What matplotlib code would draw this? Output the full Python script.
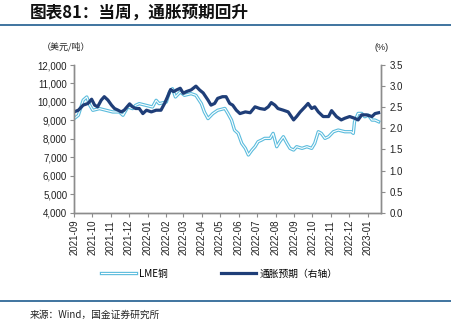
import numpy as np
import pandas as pd
import matplotlib
matplotlib.use('Agg')
import matplotlib.pyplot as plt
import matplotlib.dates as mdates
from matplotlib.lines import Line2D
from matplotlib.ticker import FuncFormatter, MultipleLocator

plt.rcParams['font.family'] = ['Liberation Sans', 'Noto Sans CJK SC', 'DejaVu Sans']
CJK = ['Noto Sans CJK SC', 'DejaVu Sans']

# ---- data ----
cu_dates = ['2021-09-01', '2021-09-08', '2021-09-16', '2021-09-22', '2021-09-27', '2021-10-02',
            '2021-10-13', '2021-10-24', '2021-11-04', '2021-11-15', '2021-11-21', '2021-11-29',
            '2021-12-07', '2021-12-12', '2021-12-18', '2021-12-29', '2022-01-09', '2022-01-15',
            '2022-01-20', '2022-02-01', '2022-02-06', '2022-02-11', '2022-02-16', '2022-02-24',
            '2022-03-03', '2022-03-14', '2022-03-22', '2022-03-31', '2022-04-05', '2022-04-11',
            '2022-04-19', '2022-04-27', '2022-05-03', '2022-05-09', '2022-05-14', '2022-05-20',
            '2022-05-25', '2022-05-31', '2022-06-06', '2022-06-12', '2022-06-17', '2022-06-23',
            '2022-06-28', '2022-07-03', '2022-07-09', '2022-07-14', '2022-07-23', '2022-07-28',
            '2022-08-03', '2022-08-08', '2022-08-14', '2022-08-20', '2022-08-25', '2022-08-31',
            '2022-09-05', '2022-09-14', '2022-09-22', '2022-09-30', '2022-10-05', '2022-10-11',
            '2022-10-16', '2022-10-22', '2022-10-28', '2022-11-05', '2022-11-13', '2022-11-24',
            '2022-12-05', '2022-12-08', '2022-12-10', '2022-12-16', '2022-12-22', '2022-12-27',
            '2023-01-02', '2023-01-08', '2023-01-13', '2023-01-19']
lme_cu = [9100, 9280, 10100, 10270, 9820, 9550,
          9640, 9550, 9460, 9460, 9280, 9730,
          9640, 9820, 9910, 9820, 9730, 10090,
          9910, 10000, 10540, 10720, 10270, 10540,
          10360, 10450, 10360, 9910, 9460, 9100,
          9370, 9550, 9600, 9650, 9380, 9020,
          8480, 8300, 7760, 7490, 7130, 7400,
          7580, 7850, 7940, 8030, 8030, 8300,
          7580, 7850, 8120, 7760, 7490, 7400,
          7580, 7490, 7580, 7490, 7760, 8390,
          8300, 8030, 8120, 8390, 8480, 8390,
          8390, 8300, 8930, 9380, 9380, 9200,
          9290, 9020, 9020, 8930]

inf_dates = ['2021-09-01', '2021-09-08', '2021-09-16', '2021-09-24', '2021-09-30', '2021-10-05',
             '2021-10-10', '2021-10-16', '2021-10-21', '2021-10-27', '2021-11-02', '2021-11-07',
             '2021-11-13', '2021-11-18', '2021-11-23', '2021-12-02', '2021-12-07', '2021-12-12',
             '2021-12-18', '2021-12-24', '2021-12-30', '2022-01-07', '2022-01-15', '2022-01-23',
             '2022-01-29', '2022-02-03', '2022-02-08', '2022-02-13', '2022-02-18', '2022-02-24',
             '2022-03-01', '2022-03-06', '2022-03-14', '2022-03-22', '2022-03-28', '2022-04-03',
             '2022-04-11', '2022-04-16', '2022-04-22', '2022-04-27', '2022-05-05', '2022-05-11',
             '2022-05-17', '2022-05-22', '2022-05-28', '2022-06-03', '2022-06-12', '2022-06-20',
             '2022-06-28', '2022-07-06', '2022-07-14', '2022-07-20', '2022-07-25', '2022-07-31',
             '2022-08-05', '2022-08-14', '2022-08-22', '2022-08-31', '2022-09-05', '2022-09-11',
             '2022-09-19', '2022-09-24', '2022-09-30', '2022-10-05', '2022-10-11', '2022-10-19',
             '2022-10-28', '2022-11-02', '2022-11-10', '2022-11-18', '2022-11-24', '2022-12-02',
             '2022-12-10', '2022-12-16', '2022-12-22', '2022-12-30', '2023-01-08', '2023-01-13',
             '2023-01-19']
infl_exp = [2.39, 2.43, 2.55, 2.59, 2.69, 2.55,
            2.51, 2.67, 2.75, 2.67, 2.55, 2.47,
            2.43, 2.39, 2.43, 2.58, 2.51, 2.47,
            2.47, 2.35, 2.43, 2.39, 2.43, 2.43,
            2.59, 2.75, 2.92, 2.87, 2.91, 2.95,
            2.83, 2.87, 2.91, 3.00, 2.91, 2.84,
            2.67, 2.55, 2.59, 2.71, 2.75, 2.75,
            2.59, 2.55, 2.43, 2.35, 2.39, 2.37,
            2.51, 2.47, 2.45, 2.51, 2.61, 2.55,
            2.47, 2.43, 2.39, 2.20, 2.28, 2.39,
            2.51, 2.59, 2.47, 2.51, 2.39, 2.28,
            2.28, 2.42, 2.28, 2.20, 2.24, 2.28,
            2.24, 2.20, 2.32, 2.32, 2.28, 2.35,
            2.37]

title = '图表81：当周，通胀预期回升'
label_cu = 'LME铜'
label_inf = '通胀预期（右轴）'
left_unit = '（美元/吨）'
right_unit = '(%)'
source = '来源：Wind，国金证券研究所'

cu_x = pd.to_datetime(cu_dates)
inf_x = pd.to_datetime(inf_dates)

LIGHT = '#5BBCDD'
NAVY = '#1F3E78'
RULE = '#1F5C8F'
SPINE = '#8C8C8C'

fig = plt.figure(figsize=(4.52, 3.30), dpi=100)
ax = fig.add_axes([0.164, 0.355, 0.679, 0.448])
ax2 = ax.twinx()

# copper: hollow double line
ax.plot(cu_x, lme_cu, color=LIGHT, lw=2.4, solid_joinstyle='round')
ax.plot(cu_x, lme_cu, color='white', lw=0.8, solid_joinstyle='round')
ax2.plot(inf_x, infl_exp, color=NAVY, lw=2.3, solid_joinstyle='round')

ax.set_ylim(4000, 12000)
ax.yaxis.set_major_locator(MultipleLocator(1000))
ax.yaxis.set_major_formatter(FuncFormatter(lambda v, p: f'{v:,.0f}'))
ax2.set_ylim(0, 3.5)
ax2.yaxis.set_major_locator(MultipleLocator(0.5))
ax2.yaxis.set_major_formatter(FuncFormatter(lambda v, p: f'{v:.1f}'))

ax.set_xlim(pd.Timestamp('2021-09-01'), pd.Timestamp('2023-01-23'))
ax.xaxis.set_major_locator(mdates.MonthLocator())
ax.xaxis.set_major_formatter(mdates.DateFormatter('%Y-%m'))
for lab in ax.get_xticklabels():
    lab.set_rotation(90)

for a in (ax, ax2):
    a.spines['top'].set_visible(False)
    for s in ('left', 'right', 'bottom'):
        a.spines[s].set_color(SPINE)
        a.spines[s].set_linewidth(1.0)
    a.tick_params(axis='both', labelsize=7, labelcolor='#222222', color=SPINE,
                  length=3, width=0.8, direction='out')
ax.tick_params(axis='x', pad=2)
ax.tick_params(axis='y', pad=2)
ax2.tick_params(axis='y', pad=3)

# units
fig.text(0.093, 0.857, left_unit, fontsize=6.5, family=CJK, ha='left', va='center', color='#222222')
fig.text(0.828, 0.857, right_unit, fontsize=6.5, ha='left', va='center', color='#222222')

# title and rules
fig.text(0.066, 0.962, title, fontsize=12, family=CJK, fontweight='bold', style='italic',
         ha='left', va='center', color='#111111')
fig.add_artist(Line2D([0, 1], [0.925, 0.925], color=RULE, lw=1.2, transform=fig.transFigure))
fig.add_artist(Line2D([0, 1], [0.088, 0.088], color=RULE, lw=1.2, transform=fig.transFigure))
fig.text(0.066, 0.045, source, fontsize=7, family=CJK, ha='left', va='center', color='#222222')

# legend
h1 = [Line2D([], [], color=LIGHT, lw=2.4), Line2D([], [], color='white', lw=0.8)]
h2 = Line2D([], [], color=NAVY, lw=2.3)
leg = fig.legend([tuple(h1), h2], [label_cu, label_inf], loc='center',
                 bbox_to_anchor=(0.485, 0.17), ncol=2, frameon=False,
                 prop={'family': CJK, 'size': 7}, handlelength=3.6, columnspacing=5.5,
                 handletextpad=0.3)

fig.savefig('out.png', dpi=100)
